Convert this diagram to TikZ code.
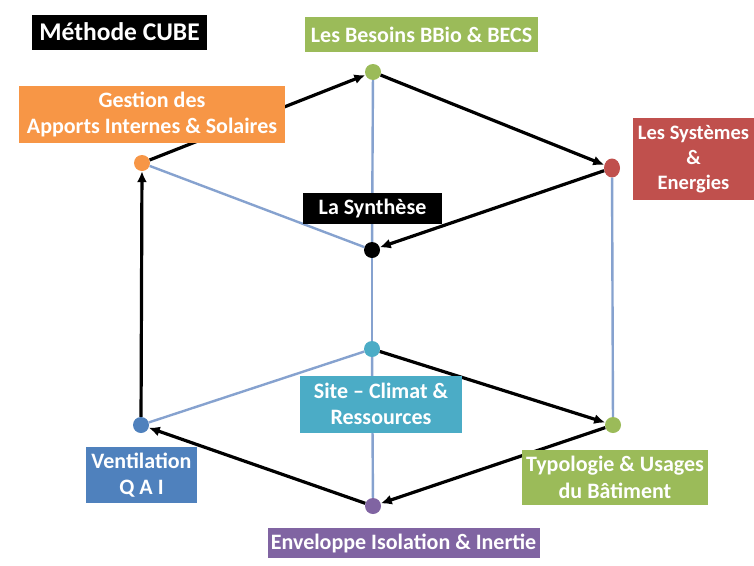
\documentclass[tikz,border=0pt]{standalone}
\usepackage{fontspec}
\setmainfont{Carlito}
\usepackage{xcolor}
\usetikzlibrary{arrows.meta}
\usetikzlibrary{shapes.geometric}

\definecolor{cubegreen}{HTML}{9BBB59}
\definecolor{cubeorange}{HTML}{F79646}
\definecolor{cubered}{HTML}{C0504D}
\definecolor{cubecyan}{HTML}{4BACC6}
\definecolor{cubeblue}{HTML}{4F81BD}
\definecolor{cubepurple}{HTML}{8064A2}
\definecolor{linkblue}{HTML}{86A2CF}

\begin{document}
\begin{tikzpicture}[x=1pt,y=-1pt,
  >={Latex[length=11pt,width=10pt]},
  dot/.style={circle,inner sep=0pt,minimum size=16pt},
  link/.style={line width=2.4pt,draw=linkblue},
  flow/.style={->,line width=3.2pt,draw=black},
  tag/.style={inner sep=0pt,text=white,align=center,
    font=\fontsize{22}{26.5}\selectfont\bfseries}
]
\useasboundingbox[fill=white] (0,0) rectangle (754,565);

% Draw the dots at the corners of the cube
\node[dot,fill=cubegreen]  (bbio)     at (373,72)  {};
\node[dot,fill=cubeorange] (apports)  at (142,163) {};
\node[dot,ellipse,fill=cubered,minimum width=16pt,minimum height=19pt] (systemes) at (612,168) {};
\node[dot,fill=black]      (synthese) at (372,250) {};
\node[dot,fill=cubecyan]   (site)     at (372,349) {};
\node[dot,fill=cubeblue]   (ventil)   at (141,425) {};
\node[dot,fill=cubegreen]  (typo)     at (613,425) {};
\node[dot,fill=cubepurple] (envel)    at (373,506) {};

% Draw the edges of the cube
\draw[link] (bbio) -- (synthese);
\draw[link] (apports) -- (synthese);
\draw[link] (synthese) -- (site);
\draw[link] (site) -- (ventil);
\draw[link] (site) -- (envel);
\draw[link] (systemes) -- (typo);

% Draw the path of the method
\draw[flow] (apports) -- (bbio);
\draw[flow] (bbio) -- (systemes);
\draw[flow] (systemes) -- (synthese);
\draw[flow] (ventil) -- (apports);
\draw[flow] (site) -- (typo);
\draw[flow] (typo) -- (envel);
\draw[flow] (envel) -- (ventil);

% Draw the labels
\node[tag,fill=black,minimum width=175pt,minimum height=35pt,font=\fontsize{25.5}{30}\selectfont\bfseries] (titre) at (119.5,32) {Méthode CUBE};
\node[tag,fill=cubegreen,minimum width=233pt,minimum height=35pt] (lbbio) at (421.5,34.5) {Les Besoins BBio \& BECS};
\node[tag,fill=cubeorange,minimum width=266pt,minimum height=57pt] (lapports) at (152,114.5) {Gestion des\\Apports Internes \& Solaires};
\node[tag,fill=cubered,minimum width=121pt,minimum height=82pt,font=\fontsize{20.5}{25}\selectfont\bfseries] (lsystemes) at (693.5,159) {Les Systèmes\\\&\\Energies};
\node[tag,fill=black,minimum width=139pt,minimum height=31pt] (lsynthese) at (372.5,208.5) {La Synthèse};
\node[tag,fill=cubecyan,minimum width=162pt,minimum height=57pt] (lsite) at (381,404) {Site – Climat \&\\Ressources};
\node[tag,fill=cubeblue,minimum width=111pt,minimum height=56pt] (lventil) at (141.5,475) {Ventilation\\Q A I};
\node[tag,fill=cubegreen,minimum width=186pt,minimum height=55pt] (ltypo) at (615,477.5) {Typologie \& Usages\\du Bâtiment};
\node[tag,fill=cubepurple,minimum width=272pt,minimum height=30pt] (lenvel) at (403.5,543) {Enveloppe Isolation \& Inertie};

\end{tikzpicture}
\end{document}
